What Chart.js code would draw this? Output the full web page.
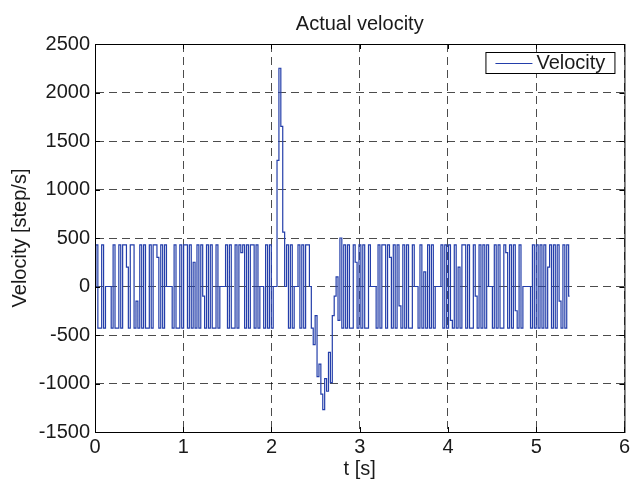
<!DOCTYPE html>
<html>
<head>
<meta charset="utf-8">
<script src="https://cdn.jsdelivr.net/npm/chart.js@4"></script>
<style>
  html, body { margin: 0; padding: 0; background: #fff; }
  #wrap { width: 633px; height: 481px; }
</style>
</head>
<body>
<div id="wrap"><canvas id="velocity-chart" width="633" height="481"></canvas></div>
<script>
// data
const chartTitle = 'Actual velocity';
const seriesName = 'Velocity';
const xTicks = [0, 1, 2, 3, 4, 5, 6];
const yTicks = [-1500, -1000, -500, 0, 500, 1000, 1500, 2000, 2500];
const sampleTime = 0.0216; // s between samples
const velocity = [
  0, 430, -430, -430, 430, -430, 0, 0, 0, -430, 430, -430, -430, 430, -430, 430, 430, 200, -430, 430,
  430, -430, -150, -430, 430, -430, 430, -430, -430, 430, -430, 430, 430, 300, -430, 430, -430, 430, 0, 0,
  0, -430, 430, -430, -430, 430, -430, 430, 430, -430, 430, -430, 250, -430, 430, -430, 430, -100, -430, 430,
  -430, 430, -430, -430, 430, -430, 0, 0, 0, 430, -430, 430, -430, -430, 430, -430, 430, 350, 430, -430,
  430, -430, 430, 430, -430, 430, -430, 0, 0, -430, 430, -430, 430, -430, 0, 0, 1300, 2250, 1650, 560,
  0, 430, -430, 430, -430, 0, 0, 430, -430, 430, -430, 430, 430, 0, -430, -600, -300, -930, -800, -1110,
  -1270, -950, -1080, -680, -990, -300, -100, 100, -350, 500, -430, 430, -430, 430, -430, -430, 430, 250, -430, 430,
  -430, 430, -430, -430, 430, 0, 0, 0, -430, 430, -430, 430, 430, -430, 430, 300, -430, 430, -430, 430,
  -200, -430, 430, -430, 430, -430, -430, 430, 0, 0, -430, 430, -430, 150, -430, 430, -430, 430, -430, 0,
  0, 0, 430, -430, 430, -430, 430, -350, -430, 430, -430, 200, -430, 430, 430, -430, 430, -430, -430, 430,
  -100, -430, 430, -430, 430, -430, 430, 0, 0, -430, 430, -430, 430, -430, -430, 430, 350, -430, 430, -430,
  430, -250, -430, 430, -430, 0, 0, 0, 0, -430, 430, -430, 430, -430, 430, -430, 430, -430, 200, 430,
  -430, 430, -430, 430, -150, -430, 430, -430, 430, -100
];

const lineBlue = 'rgb(35, 62, 170)';
const inkColor = '#1a1a1a';
Chart.defaults.font.family = "'Liberation Sans', Arial, sans-serif";
Chart.defaults.color = inkColor;

const points = velocity.map((v, i) => ({ x: i * sampleTime, y: v }));

// MATLAB style box, inward ticks and legend
const boxPlugin = {
  id: 'matlabBox',
  afterDraw(chart) {
    const { ctx, chartArea: a, scales } = chart;
    ctx.save();
    ctx.strokeStyle = '#000';
    ctx.lineWidth = 1;
    ctx.setLineDash([]);
    ctx.strokeRect(a.left + 0.5, a.top + 0.5, a.right - a.left, a.bottom - a.top);
    ctx.beginPath();
    xTicks.forEach(t => {
      const px = Math.round(scales.x.getPixelForValue(t)) + 0.5;
      ctx.moveTo(px, a.bottom); ctx.lineTo(px, a.bottom - 5);
      ctx.moveTo(px, a.top); ctx.lineTo(px, a.top + 5);
    });
    yTicks.forEach(t => {
      const py = Math.round(scales.y.getPixelForValue(t)) + 0.5;
      ctx.moveTo(a.left, py); ctx.lineTo(a.left + 5, py);
      ctx.moveTo(a.right, py); ctx.lineTo(a.right - 5, py);
    });
    ctx.stroke();

    // legend
    const ds = chart.data.datasets[0];
    const bw = 129, bh = 21;
    const bx = a.right - 10 - bw, by = a.top + 8;
    ctx.fillStyle = '#fff';
    ctx.fillRect(bx, by, bw, bh);
    ctx.strokeStyle = '#000';
    ctx.strokeRect(bx + 0.5, by + 0.5, bw, bh);
    ctx.strokeStyle = ds.borderColor;
    ctx.lineWidth = 1;
    ctx.beginPath();
    ctx.moveTo(bx + 10, by + 11.5);
    ctx.lineTo(bx + 47, by + 11.5);
    ctx.stroke();
    ctx.fillStyle = inkColor;
    ctx.font = "20px 'Liberation Sans', Arial, sans-serif";
    ctx.textBaseline = 'middle';
    ctx.textAlign = 'left';
    ctx.fillText(ds.label, bx + 51, by + 11);
    ctx.restore();
  }
};

const velocityCanvas = document.getElementById('velocity-chart');
const velocityChart = new Chart(velocityCanvas, {
  type: 'line',
  data: {
    datasets: [{
      label: seriesName,
      data: points,
      borderColor: lineBlue,
      borderWidth: 1.2,
      pointRadius: 0,
      stepped: 'middle',
      fill: false
    }]
  },
  options: {
    responsive: false,
    animation: false,
    layout: { padding: { left: 0, right: 6, top: 0, bottom: 0 } },
    plugins: {
      legend: { display: false },
      tooltip: { enabled: false },
      title: {
        display: true,
        text: chartTitle,
        fullSize: false,
        color: inkColor,
        font: { size: 20, weight: 'normal', lineHeight: 1.2 },
        padding: { top: 12, bottom: 8 }
      }
    },
    scales: {
      x: {
        type: 'linear',
        min: 0,
        max: 6,
        afterFit: s => { s.height = 49; },
        afterBuildTicks: s => { s.ticks = xTicks.map(v => ({ value: v })); },
        ticks: {
          padding: 3,
          color: inkColor,
          font: { size: 20 },
          maxRotation: 0,
          callback: v => String(v)
        },
        grid: { color: 'rgba(0,0,0,0.7)', lineWidth: 1, drawTicks: false },
        border: { display: true, color: '#000', dash: [8, 5] },
        title: {
          display: true,
          text: 't [s]',
          color: inkColor,
          font: { size: 20, lineHeight: 1.2 },
          padding: { top: 0, bottom: 0 }
        }
      },
      y: {
        type: 'linear',
        min: -1500,
        max: 2500,
        afterFit: s => { s.width = 95; },
        afterBuildTicks: s => { s.ticks = yTicks.map(v => ({ value: v })); },
        ticks: {
          padding: 5,
          color: inkColor,
          font: { size: 20 },
          callback: v => String(v)
        },
        grid: { color: 'rgba(0,0,0,0.7)', lineWidth: 1, drawTicks: false },
        border: { display: true, color: '#000', dash: [8, 5] },
        title: {
          display: true,
          text: 'Velocity [step/s]',
          color: inkColor,
          font: { size: 20, lineHeight: 1.2 },
          padding: { top: 8, bottom: 0 }
        }
      }
    }
  },
  plugins: [boxPlugin]
});
</script>
</body>
</html>
